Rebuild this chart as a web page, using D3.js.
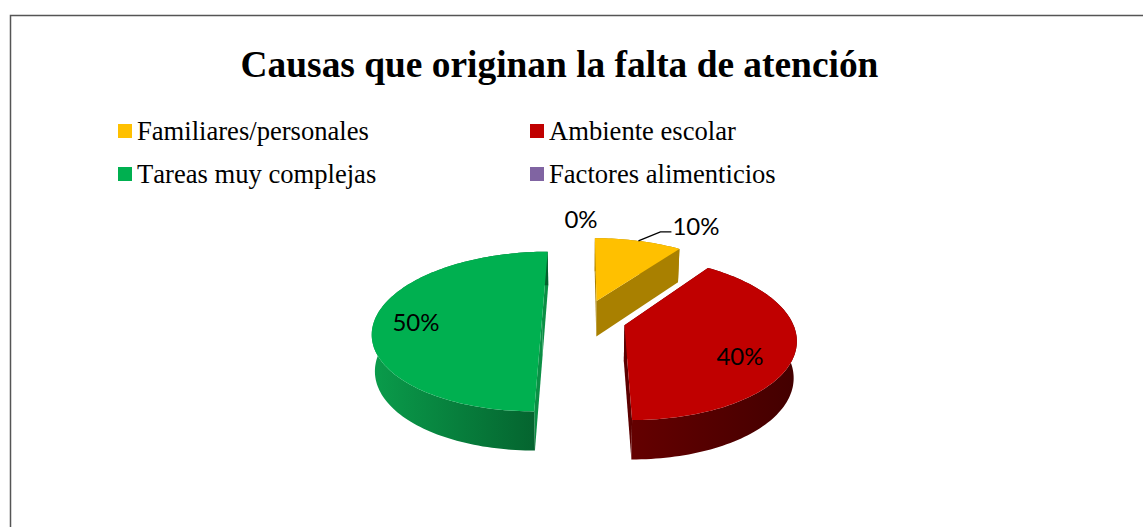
<!DOCTYPE html>
<html>
<head>
<meta charset="utf-8">
<script src="https://cdn.jsdelivr.net/npm/d3@7"></script>
<style>
html, body { margin: 0; padding: 0; background: #fff; overflow: hidden; }
</style>
</head>
<body>
<div id="chart"></div>
<script>
var categories = ["Familiares/personales", "Ambiente escolar", "Tareas muy complejas", "Factores alimenticios"];
var values = [10, 40, 50, 0];
var percentLabels = ["10%", "40%", "50%", "0%"];
var colors = ["#ffc000", "#c00000", "#00b050", "#8064a2"];
var rimColors = [["#a98000", "#a98000"], ["#640000", "#430000"], ["#0a9c4b", "#04602d"], ["#554270", "#554270"]];
var sideColors = ["#a98000", "#5c0000", "#0b8f45", "#554270"];

var width = 1143, height = 527;

// perspective of the pie, fitted on the picture
var vpX = 584, vpY = -177, planeH = 496, tilt = 0.157;
var radius = 167, explode = 42, wallH = 36, wallShrink = 0.985;

var svg = d3.select("#chart").append("svg")
    .attr("width", width)
    .attr("height", height)
    .style("display", "block");

svg.append("rect")
    .attr("width", width).attr("height", height)
    .attr("fill", "#fff");

// chart frame
svg.append("path")
    .attr("d", "M10.5," + height + "V15.5H" + width)
    .attr("fill", "none")
    .attr("stroke", "#555")
    .attr("stroke-width", 1.5);

svg.append("text")
    .attr("x", 559.5)
    .attr("y", 77)
    .attr("text-anchor", "middle")
    .style("font", "bold 37.4px 'Liberation Serif'")
    .attr("fill", "#000")
    .text("Causas que originan la falta de atención");

// legend
var legendX = d3.scaleOrdinal().domain([0, 1]).range([118, 530]);
var legendY = d3.scaleOrdinal().domain([0, 1]).range([131, 174]);

var legend = svg.append("g").selectAll("g")
    .data(categories)
    .enter().append("g")
    .attr("transform", function(d, i) {
        return "translate(" + legendX(i % 2) + "," + legendY(Math.floor(i / 2)) + ")";
    });
legend.append("rect")
    .attr("y", -7)
    .attr("width", 14).attr("height", 14)
    .attr("fill", function(d, i) { return colors[i]; });
legend.append("text")
    .attr("x", 19)
    .attr("y", 9)
    .style("font", "26.6px 'Liberation Serif'")
    .style("font-kerning", "none")
    .attr("fill", "#000")
    .text(function(d) { return d; });

var pie = d3.pie().sort(null).value(function(d) { return d; });
var arcs = pie(values);

// a is clockwise from north, r in pixels at the plane centre, low=true for the bottom of the wall
function project(slice, a, r, low) {
    var mid = (slice.startAngle + slice.endAngle) / 2;
    var u = explode * Math.sin(mid) + r * Math.sin(a);
    var v = (explode * Math.cos(mid) + r * Math.cos(a)) / radius;
    var w = 1 + tilt * v;
    var x = vpX + u / w;
    var y = vpY + planeH / w;
    if (low) {
        x = vpX + (x - vpX) * wallShrink;
        y = y + wallH / Math.sqrt(w);
    }
    return [x, y];
}

function rimAngles(slice) {
    var n = Math.max(2, Math.ceil((slice.endAngle - slice.startAngle) * 40));
    return d3.range(n + 1).map(function(i) {
        return slice.startAngle + (slice.endAngle - slice.startAngle) * i / n;
    });
}

var line = d3.line();
var defs = svg.append("defs");
var pieLayer = svg.append("g");

arcs.forEach(function(slice, i) {
    if (slice.value === 0) return;
    var angles = rimAngles(slice);
    var top = angles.map(function(a) { return project(slice, a, radius, false); });
    var low = angles.map(function(a) { return project(slice, a, radius, true); });
    var apexTop = project(slice, 0, 0, false);
    var apexLow = project(slice, 0, 0, true);

    var g = pieLayer.append("g");

    // radial walls
    [[top[0], low[0]], [top[top.length - 1], low[low.length - 1]]].forEach(function(e) {
        g.append("path")
            .attr("d", line([apexTop, e[0], e[1], apexLow]) + "Z")
            .attr("fill", sideColors[i]);
    });

    // outer wall
    var xr = d3.extent(top, function(p) { return p[0]; });
    var id = "rim" + i;
    var grad = defs.append("linearGradient")
        .attr("id", id)
        .attr("gradientUnits", "userSpaceOnUse")
        .attr("x1", xr[0]).attr("x2", xr[1])
        .attr("y1", 0).attr("y2", 0);
    grad.append("stop").attr("offset", 0).attr("stop-color", rimColors[i][0]);
    grad.append("stop").attr("offset", 1).attr("stop-color", rimColors[i][1]);

    g.append("path")
        .attr("d", line(top.concat(low.slice().reverse())) + "Z")
        .attr("fill", "url(#" + id + ")");

    // top face
    g.append("path")
        .attr("d", line([apexTop].concat(top)) + "Z")
        .attr("fill", colors[i]);
});

// leader of the 10% label
var first = arcs[0];
var leadStart = project(first, (first.startAngle + first.endAngle) / 2, radius, false);
svg.append("path")
    .attr("d", line([leadStart, [leadStart[0] + 22, leadStart[1] - 9], [leadStart[0] + 33, leadStart[1] - 9]]))
    .attr("fill", "none")
    .attr("stroke", "#000")
    .attr("stroke-width", 1.3);

var labelX = [696, 740, 416, 581];
var labelY = [235, 365, 331, 228];
svg.append("g").selectAll("text")
    .data(percentLabels)
    .enter().append("text")
    .attr("x", function(d, i) { return labelX[i]; })
    .attr("y", function(d, i) { return labelY[i]; })
    .attr("text-anchor", "middle")
    .style("font", "24px Lato")
    .attr("fill", "#000")
    .text(function(d) { return d; });
</script>
</body>
</html>
